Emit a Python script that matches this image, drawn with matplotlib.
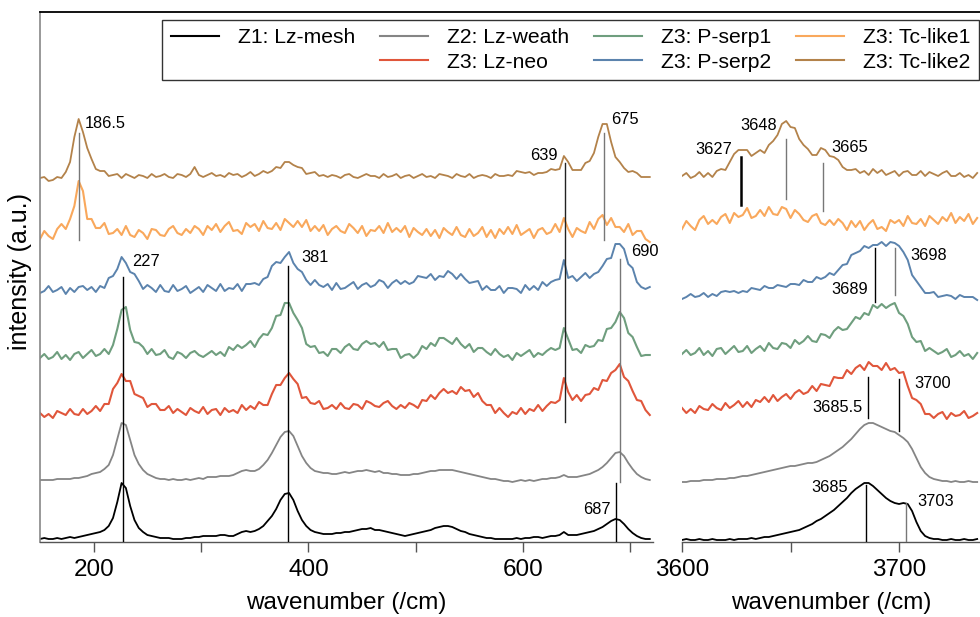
import numpy as np
import matplotlib.pyplot as plt
from matplotlib.lines import Line2D

plt.rcParams['font.family'] = ['Liberation Sans', 'DejaVu Sans']

# sample names, colours and vertical offsets of the stacked spectra
names = ["Z1: Lz-mesh", "Z2: Lz-weath", "Z3: Lz-neo", "Z3: P-serp1",
         "Z3: P-serp2", "Z3: Tc-like1", "Z3: Tc-like2"]
colors = ["black", "#858585", "#e0563b", "#6f9e7e", "#5b83ad", "#f9a85c", "#b3824a"]
offsets = [2, 60, 127, 185, 250, 307, 364]

# wavenumber grids (/cm)
wn_low = np.arange(150, 719, 4)
wn_high = np.arange(3600, 3737, 2)

# low wavenumber region, intensity above each baseline (a.u.)
lz_mesh_low = [1, 2, 1, 1, 2, 1, 2, 3, 2, 3,
               4, 5, 6, 7, 8, 10, 14, 22, 38, 57,
               52, 34, 20, 12, 8, 5, 4, 3, 2, 2,
               2, 1, 1, 1, 2, 2, 3, 3, 4, 4,
               4, 4, 5, 5, 4, 4, 6, 8, 9, 8,
               9, 11, 14, 19, 24, 31, 40, 46, 47, 40,
               29, 20, 14, 10, 8, 7, 6, 6, 6, 7,
               7, 8, 8, 9, 10, 11, 11, 12, 10, 10,
               9, 8, 7, 6, 5, 4, 5, 6, 7, 8,
               9, 10, 12, 13, 14, 14, 13, 11, 9, 8,
               6, 5, 4, 3, 2, 2, 1, 1, 1, 1,
               1, 2, 1, 2, 2, 3, 3, 2, 3, 4,
               4, 5, 8, 5, 5, 5, 6, 7, 8, 9,
               11, 13, 16, 19, 21, 20, 16, 11, 7, 4,
               2, 1, 1]
lz_weath_low = [2, 2, 2, 2, 3, 3, 3, 3, 4, 4,
                5, 6, 8, 9, 10, 13, 17, 27, 43, 59,
                57, 42, 27, 18, 12, 8, 6, 4, 3, 3,
                2, 3, 2, 2, 3, 2, 3, 4, 3, 5,
                5, 5, 6, 6, 6, 7, 9, 11, 12, 11,
                11, 13, 17, 22, 29, 37, 45, 50, 51, 46,
                36, 26, 19, 14, 11, 10, 9, 9, 8, 8,
                9, 10, 9, 10, 11, 11, 12, 11, 10, 11,
                9, 9, 8, 8, 7, 7, 7, 8, 8, 9,
                10, 11, 11, 12, 12, 12, 12, 11, 10, 9,
                8, 7, 6, 5, 4, 3, 3, 2, 1, 1,
                0, 1, 2, 1, 2, 1, 2, 3, 3, 4,
                4, 5, 7, 5, 5, 5, 6, 7, 8, 10,
                12, 15, 19, 24, 29, 30, 26, 19, 13, 8,
                5, 3, 2]
lz_neo_low = [2, -2, 1, -3, 4, 2, 0, 6, 1, 0,
              6, 1, 4, 9, 4, 11, 11, 26, 32, 41,
              34, 34, 21, 19, 17, 8, 11, 11, 5, 5,
              9, 2, 6, 3, 0, 7, 4, 2, 8, 1,
              5, 6, 0, 7, 3, 5, 2, 10, 5, 9,
              6, 13, 10, 10, 21, 30, 30, 37, 42, 36,
              31, 17, 18, 12, 11, 14, 6, 7, 10, 6,
              12, 7, 6, 11, 10, 6, 14, 12, 9, 8,
              12, 14, 9, 6, 10, 7, 12, 10, 7, 15,
              14, 20, 16, 22, 26, 22, 24, 21, 28, 24,
              25, 18, 22, 14, 10, 10, 2, 7, 2, -2,
              3, 1, 7, 1, 6, 4, 10, 4, 9, 13,
              12, 15, 37, 23, 15, 20, 14, 20, 21, 27,
              25, 35, 34, 42, 45, 51, 38, 34, 24, 15,
              14, 5, 0]
p_serp1_low = [-1, 3, -2, 0, 5, -2, 2, -3, 3, 5,
               -1, 3, 7, 1, 3, 8, 3, 12, 28, 47,
               50, 27, 15, 14, 10, 3, 8, 2, 3, 7,
               0, -2, 5, 3, -1, 4, 6, 2, 0, 3,
               6, 2, 5, 1, 10, 7, 12, 9, 12, 16,
               10, 18, 23, 22, 29, 41, 42, 54, 54, 44,
               37, 29, 13, 10, 11, 4, 5, 1, 8, 8,
               4, 10, 13, 8, 7, 13, 16, 13, 14, 10,
               15, 7, 8, 8, -1, 2, 3, -1, 3, 11,
               8, 14, 11, 19, 19, 16, 13, 19, 13, 9,
               13, 5, 9, 9, 5, 2, 8, 3, 0, 2,
               -3, 4, 1, 4, 7, 0, 4, 2, 6, 9,
               7, 9, 29, 18, 7, 8, 4, 12, 10, 11,
               17, 16, 28, 29, 35, 45, 39, 24, 20, 10,
               1, 2, 2]
p_serp2_low = [-1, 1, 6, 0, 2, 5, -2, 4, 0, 5,
               6, 2, 5, 0, 6, 4, 14, 16, 23, 35,
               29, 20, 18, 11, 3, 7, 4, 0, 7, 1,
               0, 7, 1, 3, 6, -1, 2, 5, 0, 7,
               4, 1, 8, 1, 4, 3, 8, 1, 8, 8,
               9, 7, 13, 15, 26, 30, 29, 35, 40, 29,
               23, 20, 12, 7, 12, 7, 5, 8, 2, 9,
               3, 4, 7, 10, 3, 7, 9, 5, 7, 12,
               10, 4, 9, 12, 8, 11, 8, 10, 16, 15,
               14, 18, 12, 16, 15, 21, 18, 13, 18, 13,
               9, 10, 11, 2, 6, 2, 2, 6, -1, 4,
               4, 3, -1, 7, 2, 6, 2, 10, 6, 10,
               12, 13, 32, 14, 16, 11, 15, 19, 14, 18,
               20, 26, 33, 34, 48, 48, 43, 28, 24, 10,
               5, 3, 5]
tc_like1_low = [-4, 4, -1, -4, 6, 11, 6, 16, 29, 54,
                44, 16, 16, 7, 7, 12, 1, 2, 6, 0,
                9, 0, -2, 5, 2, -4, 6, 5, 0, -1,
                6, 9, 2, 0, 6, 2, 9, 6, 0, 9,
                5, 11, 3, 9, 13, 4, 5, 1, 12, 8,
                11, 4, 14, 7, 6, 12, 5, 16, 12, 8,
                14, 8, 15, 4, 9, 4, 10, 0, 6, 9,
                4, 2, 11, 7, 2, 9, -1, 5, 4, 9,
                2, 12, 3, 7, 3, 9, -2, 7, 3, 0,
                6, -1, 5, -3, 7, 3, 0, 8, 0, -2,
                6, -1, 2, 8, -2, 5, -3, 6, 1, 8,
                1, 10, 0, 3, 6, -3, 5, 7, 1, 3,
                11, 3, 17, 6, -2, 7, 4, 2, 13, 6,
                16, 20, 10, 17, 8, 8, 3, 11, 0, 4,
                4, -4, -7]
tc_like2_low = [0, 1, -3, -2, 1, 0, 6, 16, 41, 59,
                46, 30, 19, 9, 7, 7, 2, 3, 4, 0,
                4, 2, 0, 3, 2, 0, 4, 1, 2, 4,
                1, 0, 4, 3, 1, 4, 11, 3, 1, 3,
                5, 2, 3, 1, 5, 3, 4, 1, 3, 6,
                2, 4, 7, 5, 7, 11, 10, 16, 16, 13,
                11, 10, 4, 5, 6, 2, 3, 1, 3, 2,
                0, 3, 4, 1, 0, 2, 4, 2, 2, 0,
                4, 1, 2, 4, 0, 2, 3, 0, 2, 4,
                1, 2, 0, 4, 3, 2, 0, 4, 2, 1,
                4, 0, 2, 3, 2, 0, 4, 2, 2, 3,
                2, 7, 6, 5, 6, 3, 5, 5, 6, 9,
                8, 9, 22, 16, 8, 8, 8, 15, 17, 25,
                41, 54, 54, 36, 21, 16, 10, 6, 7, 5,
                1, 1, 1]

# OH stretching region
lz_mesh_high = [0, 1, 0, 0, 1, 0, 0, 1, 0, 0,
                0, 1, 0, 1, 1, 1, 2, 1, 2, 3,
                3, 4, 5, 6, 7, 8, 9, 10, 12, 14,
                16, 19, 21, 24, 27, 30, 34, 38, 42, 47,
                51, 54, 57, 57, 54, 50, 46, 42, 39, 37,
                36, 37, 36, 29, 18, 9, 4, 2, 1, 1,
                0, 0, 1, 0, 0, 1, 0, 0, 1]
lz_weath_high = [0, 0, 1, 1, 1, 2, 2, 2, 3, 3,
                 3, 4, 4, 5, 6, 6, 7, 8, 9, 10,
                 11, 12, 13, 14, 15, 16, 16, 17, 18, 19,
                 19, 20, 22, 24, 26, 29, 32, 35, 39, 43,
                 48, 53, 57, 59, 59, 57, 55, 53, 51, 50,
                 47, 44, 40, 33, 24, 15, 9, 5, 3, 2,
                 1, 1, 0, 1, 0, 0, 1, 0, 0]
lz_neo_high = [7, 2, 6, 2, 9, 6, 5, 11, 7, 5,
               12, 7, 10, 14, 8, 13, 8, 15, 13, 18,
               13, 20, 14, 18, 21, 16, 22, 25, 21, 23,
               29, 24, 31, 30, 29, 38, 37, 37, 45, 41,
               47, 50, 45, 53, 49, 49, 45, 52, 45, 47,
               42, 43, 29, 17, 15, 11, 1, 1, -3, 1,
               3, -4, 2, -1, 0, 4, -3, -1, 2]
p_serp1_high = [3, 7, 2, 4, 9, 2, 6, 1, 8, 9,
                3, 7, 11, 5, 6, 11, 4, 8, 11, 6,
                14, 9, 8, 14, 13, 9, 17, 13, 16, 21,
                16, 15, 23, 22, 19, 26, 30, 27, 28, 34,
                40, 38, 44, 42, 52, 49, 53, 49, 52, 54,
                44, 41, 33, 20, 15, 16, 6, 9, 6, 3,
                5, 8, 0, 2, 6, 1, 3, -2, 4]
p_serp2_high = [-7, -5, -2, -5, -4, -1, -5, -2, -4, 0,
                1, 0, 1, -1, 1, 0, 4, 3, 2, 6,
                4, 4, 7, 6, 5, 8, 8, 7, 12, 10,
                10, 15, 13, 15, 19, 17, 22, 27, 28, 37,
                39, 41, 46, 44, 47, 47, 50, 46, 50, 49,
                46, 40, 32, 17, 11, 5, -1, -1, 0, -5,
                -4, -3, -4, -7, -3, -5, -5, -5, -8]
tc_like1_high = [6, 14, 9, 5, 15, 19, 11, 15, 11, 18,
                 21, 12, 22, 18, 20, 27, 17, 19, 25, 19,
                 28, 21, 20, 28, 26, 17, 25, 21, 15, 13,
                 19, 21, 12, 10, 15, 10, 16, 12, 5, 14,
                 8, 14, 5, 11, 15, 6, 8, 4, 15, 12,
                 15, 9, 19, 12, 11, 16, 9, 19, 15, 11,
                 18, 14, 22, 12, 18, 14, 21, 11, 17]
tc_like2_high = [2, 5, 0, 2, 6, 1, 5, 1, 7, 9,
                 8, 16, 24, 28, 28, 28, 22, 25, 28, 25,
                 33, 37, 43, 54, 57, 51, 50, 39, 33, 29,
                 23, 23, 30, 28, 22, 21, 18, 11, 8, 8,
                 9, 5, 7, 3, 9, 5, 8, 3, 5, 7,
                 2, 6, 7, 3, 3, 7, 2, 6, 4, 2,
                 5, 7, 2, 2, 5, 1, 3, 0, 5]

spectra_low = [lz_mesh_low, lz_weath_low, lz_neo_low, p_serp1_low,
               p_serp2_low, tc_like1_low, tc_like2_low]
spectra_high = [lz_mesh_high, lz_weath_high, lz_neo_high, p_serp1_high,
                p_serp2_high, tc_like1_high, tc_like2_high]

# band positions with marker line extent
low_peaks = [186.5, 227, 381, 639, 675, 690, 687]
low_span = [(302, 409), (0, 265), (0, 276), (120, 379), (302, 409), (60, 283), (0, 59)]
low_tone = ["#777777", "black", "black", "#222222", "#777777", "#777777", "black"]
low_text = [("186.5", 191.9, 418, "left"), ("227", 235.7, 280, "left"),
            ("381", 393, 285, "left"), ("639", 632.5, 387, "right"),
            ("675", 682, 423, "left"), ("690", 700.5, 290, "left"),
            ("687", 682, 33, "right")]

high_peaks = [3627, 3648, 3665, 3689, 3698, 3685.5, 3700, 3685, 3703]
high_span = [(337, 385), (343, 403), (331, 379), (240, 294), (247, 294),
             (124, 165), (111, 163), (0, 57), (0, 39)]
high_tone = ["black", "#777777", "#777777", "black", "#777777",
             "black", "black", "black", "#777777"]
high_text = [("3627", 3623, 393, "right"), ("3648", 3643.8, 417, "right"),
             ("3665", 3668.7, 394, "left"), ("3689", 3685.7, 253, "right"),
             ("3698", 3705, 287, "left"), ("3685.5", 3683.4, 134, "right"),
             ("3700", 3707, 158, "left"), ("3685", 3676.5, 54, "right"),
             ("3703", 3708.3, 40, "left")]

fig = plt.figure(figsize=(9.8, 6.17), dpi=100)
ax1 = fig.add_axes([40/980, 75/617, 613/980, 530/617])
ax2 = fig.add_axes([682/980, 75/617, 298/980, 530/617])

lws = [1.3, 1.3, 1.5, 1.5, 1.4, 1.5, 1.3]
for i in range(len(names)):
    ax1.plot(wn_low, np.array(spectra_low[i]) + offsets[i], color=colors[i], lw=lws[i], label=names[i])
    ax2.plot(wn_high, np.array(spectra_high[i]) + offsets[i], color=colors[i], lw=lws[i])

for x, (a, b), c in zip(low_peaks, low_span, low_tone):
    ax1.plot([x, x], [a, b], color=c, lw=1.0, zorder=5)
for s, x, y, ha in low_text:
    ax1.text(x, y, s, ha=ha, va="center", fontsize=11.8)

for k, (x, (a, b), c) in enumerate(zip(high_peaks, high_span, high_tone)):
    ax2.plot([x, x], [a, b], color=c, lw=1.8 if k == 0 else 1.0, zorder=5)
for s, x, y, ha in high_text:
    ax2.text(x, y, s, ha=ha, va="center", fontsize=11.8)

ax1.set_xlim(150, 721)
ax2.set_xlim(3600, 3737.3)
for ax in (ax1, ax2):
    ax.set_ylim(0, 530)
    ax.set_yticks([])
    for side in ("top", "right", "left"):
        ax.spines[side].set_visible(False)
    ax.spines["bottom"].set_color("#555555")
    ax.spines["bottom"].set_linewidth(1.0)
    ax.tick_params(which="both", direction="out", length=7, width=1,
                   color="#555555", labelsize=17.5, pad=5)
    ax.set_xlabel("wavenumber (/cm)", fontsize=17.5, labelpad=8)
ax1.spines["left"].set_visible(True)
ax1.spines["left"].set_color("#888888")
ax1.spines["left"].set_linewidth(1.2)

ax1.set_xticks([200, 400, 600])
ax1.set_xticks([300, 500, 700], minor=True)
ax2.set_xticks([3600, 3700])
ax2.set_xticks([3650], minor=True)

fig.text(20/980, 1 - 272/617, "intensity (a.u.)", rotation=90, ha="center", va="center", fontsize=18)

fig.add_artist(Line2D([40/980, 1.0], [1 - 12/617, 1 - 12/617], color="black", lw=1.3))

handles = [Line2D([], [], color=c, lw=1.5) for c in colors]
blank = Line2D([], [], color="none")
order_h = [handles[0], blank, handles[1], handles[2], handles[3], handles[4], handles[5], handles[6]]
order_l = [names[0], " ", names[1], names[2], names[3], names[4], names[5], names[6]]
leg = fig.legend(order_h, order_l, ncol=4, loc="upper right",
                 bbox_to_anchor=(979/980, 1 - 20/617), borderaxespad=0,
                 fontsize=15.2, handlelength=2.3, handletextpad=0.9,
                 columnspacing=1.15, borderpad=0.4, labelspacing=0.25,
                 fancybox=False, edgecolor="#333333", framealpha=1)
leg.get_frame().set_linewidth(1.0)

fig.savefig("out.png", dpi=100)
